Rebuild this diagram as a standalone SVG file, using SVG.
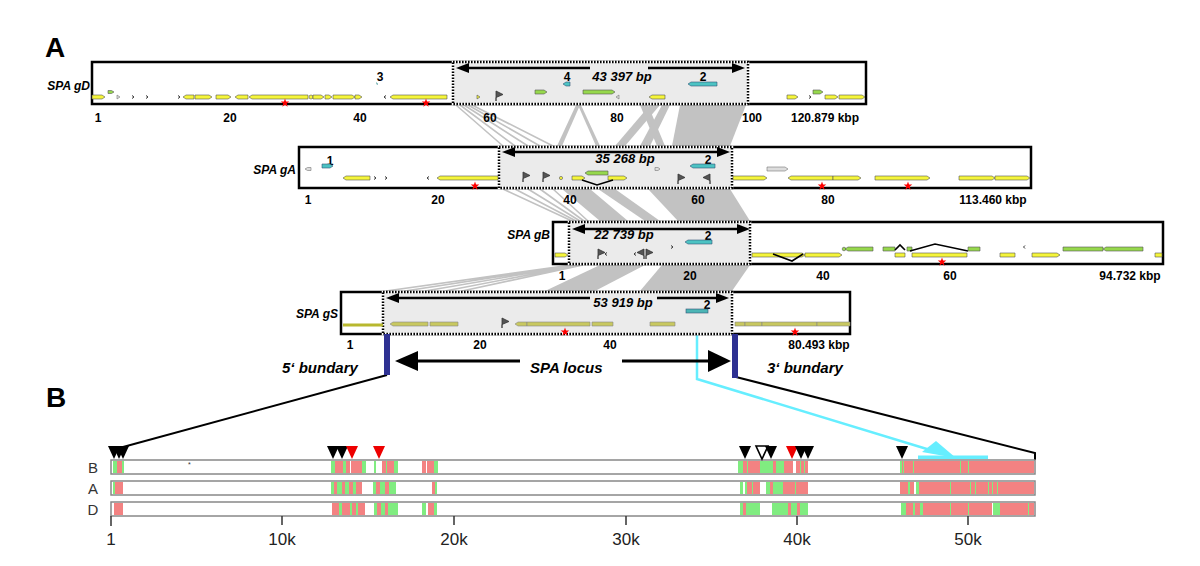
<svg xmlns="http://www.w3.org/2000/svg" width="1200" height="566" viewBox="0 0 1200 566">
<style>
.box{fill:#fff;stroke:#000;stroke-width:2.5}
.coreW{fill:#ebebeb;stroke:#fff;stroke-width:2.5}
.core{fill:none;stroke:#000;stroke-width:2.5;stroke-dasharray:1.6 1.4}
.lbl{font-family:"Liberation Sans",Arial,sans-serif;font-weight:bold;font-style:italic;font-size:12px;fill:#000}
.bp{font-family:"Liberation Sans",Arial,sans-serif;font-weight:bold;font-style:italic;font-size:13px;fill:#000;text-anchor:middle}
.num{font-family:"Liberation Sans",Arial,sans-serif;font-weight:bold;font-size:12px;fill:#000;text-anchor:middle}
.big{font-family:"Liberation Sans",Arial,sans-serif;font-weight:bold;font-size:28px;fill:#000}
.bnd{font-family:"Liberation Sans",Arial,sans-serif;font-weight:bold;font-style:italic;font-size:15px;fill:#000}
.trk{font-family:"Liberation Sans",Arial,sans-serif;font-size:15px;fill:#333;text-anchor:middle}
.ax{font-family:"Liberation Sans",Arial,sans-serif;font-size:17px;fill:#222;text-anchor:middle}
.y{fill:#f5f53a;stroke:#555;stroke-width:0.6}
.o{fill:#c8c860;stroke:#888;stroke-width:0.6}
.g{fill:#96d84c;stroke:#555;stroke-width:0.6}
.t{fill:#4cc3c3;stroke:#357;stroke-width:0.6}
.gr{fill:#ddd;stroke:#777;stroke-width:0.6}
.ch{fill:none;stroke:#333;stroke-width:1}
.vl{fill:none;stroke:#000;stroke-width:1.6}
.dbl{stroke:#000;stroke-width:2.5;fill:none}
.rib{fill:#c2c2c2}
.ribl{stroke:#c2c2c2;stroke-width:1.6;fill:none}
.G{fill:#80ec80}
.R{fill:#f38282}
.tb{fill:#fff;stroke:#888;stroke-width:1.5}
</style>
<defs>
<path id="star" d="M0,-4.5 L1.06,-1.46 L4.28,-1.39 L1.71,0.56 L2.65,3.64 L0,1.8 L-2.65,3.64 L-1.71,0.56 L-4.28,-1.39 L-1.06,-1.46 Z" fill="#f00"/>
<path id="flag" d="M0,5 L0,-5 L7,-1.5 L0,1.5 Z" fill="#555" stroke="#333" stroke-width="0.8"/>
<path id="tri" d="M-6,-13 L6,-13 L0,0 Z"/>
<path id="ahL" d="M0,0 L13,-5 L13,5 Z" fill="#000"/>
<path id="ahR" d="M0,0 L-13,-5 L-13,5 Z" fill="#000"/>
</defs>

<text class="big" x="45" y="57">A</text>
<text class="big" x="46" y="407">B</text>

<g id="ribbons">
<!-- gD to gA -->
<path class="ribl" d="M456,105 L503,146 M460,105 L515,146 M464,105 L528,146 M468,105 L540,146 M472,105 L553,146"/>
<polygon class="rib" points="576,105 580,105 562,146 557,146"/>
<polygon class="rib" points="578,105 581,105 600,146 596,146"/>
<polygon class="rib" points="640,105 648,105 665,146 657,146"/>
<polygon class="rib" points="650,105 660,105 625,146 615,146"/>
<polygon class="rib" points="662,105 670,105 650,146 640,146"/>
<polygon class="rib" points="680,105 746,105 730,146 672,146"/>
<!-- gA to gB -->
<path class="ribl" d="M503,189 L572,221 M515,189 L576,221 M528,189 L580,221 M540,189 L584,221 M553,189 L588,221"/>
<polygon class="rib" points="562,189 590,189 628,221 600,221"/>
<polygon class="rib" points="598,189 615,189 660,221 645,221"/>
<polygon class="rib" points="648,189 730,189 750,221 678,221"/>
<!-- gB to gS -->
<path class="ribl" d="M571,265 L386,291 M574,265 L405,291 M577,265 L425,291 M580,265 L445,291 M583,265 L462,291"/>
<polygon class="rib" points="600,265 645,265 595,291 545,291"/>
<polygon class="rib" points="662,265 750,265 732,291 640,291"/>
</g>

<g id="connectors">
<line x1="387" y1="375" x2="112" y2="450" stroke="#000" stroke-width="2"/>
<polyline points="736,377 1035,453 1035,460" fill="none" stroke="#000" stroke-width="2"/>
<polyline points="697,313 697,379 940,453" fill="none" stroke="#66eeff" stroke-width="2.5"/>
<polygon points="956,458 922,452 936,441" fill="#66eeff"/>
<rect x="918" y="455.5" width="70" height="3.5" fill="#66eeff"/>
<!-- SPA locus arrows -->
<line x1="417" y1="361" x2="520" y2="361" stroke="#000" stroke-width="3"/>
<polygon points="395,361 418,351 418,371" fill="#000"/>
<line x1="622" y1="361" x2="709" y2="361" stroke="#000" stroke-width="3"/>
<polygon points="731,361 708,350 708,372" fill="#000"/>
</g>

<g id="track-gD">
<rect class="box" x="92" y="62" width="774" height="42"/>
<rect class="coreW" x="453" y="62" width="295" height="42"/>
<rect class="core" x="453" y="62" width="295" height="42"/>
<text class="lbl" x="90" y="90" text-anchor="end">SPA gD</text>
<line class="dbl" x1="468" y1="68" x2="590" y2="68"/>
<line class="dbl" x1="648" y1="68" x2="733" y2="68"/>
<use href="#ahL" x="456" y="68"/>
<use href="#ahR" x="745" y="68"/>
<text class="bp" x="622" y="81">43 397 bp</text>
<text class="num" x="380" y="81" font-size="11">3</text>
<text class="num" x="567" y="81">4</text>
<text class="num" x="703" y="81">2</text>
<polygon class="y" points="92,95 102,95 105,97 102,99 92,99"/>
<polygon class="g" points="108,90.5 111.5,90.5 114,92 111.5,93.5 108,93.5"/>
<polygon class="gr" points="117,95 120,97 117,99"/>
<polyline class="ch" points="132,95.5 134,97 132,98.5"/>
<polyline class="ch" points="146,95.5 148,97 146,98.5"/>
<polyline class="ch" points="178,95.5 180,97 178,98.5"/>
<polygon class="y" points="183,97 186,95 194,95 194,99 186,99"/>
<polygon class="y" points="195,95 209,95 212,97 209,99 195,99"/>
<polygon class="y" points="216,95 228,95 231,97 228,99 216,99"/>
<polygon class="y" points="235,97 238,95 248,95 248,99 238,99"/>
<polygon class="y" points="249,97 252,95 308,95 308,99 252,99"/>
<circle class="y" cx="311" cy="97" r="2"/>
<polygon class="y" points="313,95 321,95 324,97 321,99 313,99"/>
<polygon class="y" points="325,95 329,95 332,97 329,99 325,99"/>
<polygon class="y" points="333,95 352,95 355,97 352,99 333,99"/>
<polygon class="y" points="355,95 359,95 362,97 359,99 355,99"/>
<path d="M376,82 l2,2 l-1,1 z" fill="#2a8a8a"/>
<polyline class="ch" points="386,95.5 384,97 386,98.5"/>
<polygon class="y" points="390,97 393,95 447,95 447,99 393,99"/>
<use href="#star" x="285" y="103"/>
<use href="#star" x="426" y="103"/>
<polygon class="y" points="477,95 480,97 477,99"/>
<use href="#flag" x="496" y="96"/>
<polygon class="g" points="535,90 544,90 547,92 544,94 535,94"/>
<polygon class="t" points="563,84 566,82 570,82 570,86 566,86"/>
<polygon class="g" points="583,90 612,90 615,92 612,94 583,94"/>
<polygon class="gr" points="616,97 619,95 619,99"/>
<polygon class="y" points="649,97 652,95 665,95 665,99 652,99"/>
<polygon class="t" points="688,84 691,82 717,82 717,86 691,86"/>
<polygon class="y" points="787,95 795,95 798,97 795,99 787,99"/>
<polyline class="ch" points="809,95.5 811,97 809,98.5"/>
<polygon class="g" points="813,90 820,90 823,92 820,94 813,94"/>
<polygon class="y" points="825,95 835,95 838,97 835,99 825,99"/>
<polygon class="y" points="839,95 862,95 865,97 862,99 839,99"/>
<text class="num" x="98" y="122">1</text>
<text class="num" x="230" y="122">20</text>
<text class="num" x="360" y="122">40</text>
<text class="num" x="490" y="122">60</text>
<text class="num" x="617" y="122">80</text>
<text class="num" x="752" y="122">100</text>
<text class="num" x="825" y="122">120.879 kbp</text>
</g>

<g id="track-gA">
<rect class="box" x="299" y="147" width="732" height="41"/>
<rect class="coreW" x="499" y="147" width="233" height="41"/>
<rect class="core" x="499" y="147" width="233" height="41"/>
<text class="lbl" x="296" y="174" text-anchor="end">SPA gA</text>
<line class="dbl" x1="515" y1="152" x2="717" y2="152"/>
<use href="#ahL" x="502" y="152"/>
<use href="#ahR" x="730" y="152"/>
<text class="bp" x="625" y="163">35 268 bp</text>
<text class="num" x="330" y="165">1</text>
<text class="num" x="708" y="164">2</text>
<polygon class="gr" points="305,169 307.5,167.5 311,167.5 311,170.5 307.5,170.5"/>
<polygon class="t" points="322,164 330,164 333,166 330,168 322,168"/>
<polygon class="y" points="343,178 346,176 370,176 370,180 346,180"/>
<polyline class="ch" points="374,176.5 376,178 374,179.5"/>
<polyline class="ch" points="385,176.5 387,178 385,179.5"/>
<polyline class="ch" points="429,176.5 427,178 429,179.5"/>
<polygon class="y" points="437,178 440,176 498,176 498,180 440,180"/>
<use href="#star" x="475" y="186"/>
<use href="#flag" x="523" y="177"/>
<use href="#flag" x="543" y="177"/>
<circle class="y" cx="561" cy="178" r="1.6"/>
<polygon class="y" points="572,176 582,176 585,178 582,180 572,180"/>
<polygon class="g" points="585,173 588,171 608,171 608,175 588,175"/>
<polygon class="y" points="608,176 624,176 627,178 624,180 608,180"/>
<polyline class="vl" points="582,180 597,185 613,180"/>
<polygon class="gr" points="655,167.5 658,167.5 660,169 658,170.5 655,170.5"/>
<polygon class="t" points="690,166 693,164 715,164 715,168 693,168"/>
<use href="#flag" x="678" y="179"/>
<use href="#flag" transform="translate(710,179) scale(-1,1)"/>
<polygon class="y" points="733,176 764,176 767,178 764,180 733,180"/>
<polygon class="gr" points="767,167 785,167 788,169 785,171 767,171"/>
<polygon class="y" points="788,178 791,176 833,176 833,180 791,180"/>
<polygon class="y" points="833,176 858,176 861,178 858,180 833,180"/>
<use href="#star" x="822" y="186"/>
<polygon class="y" points="875,176 927,176 930,178 927,180 875,180"/>
<use href="#star" x="908" y="186"/>
<polygon class="y" points="959,176 992,176 995,178 992,180 959,180"/>
<polygon class="y" points="995,176 1027,176 1030,178 1027,180 995,180"/>
<text class="num" x="308" y="204">1</text>
<text class="num" x="438" y="204">20</text>
<text class="num" x="570" y="204">40</text>
<text class="num" x="698" y="204">60</text>
<text class="num" x="828" y="204">80</text>
<text class="num" x="993" y="204">113.460 kbp</text>
</g>

<g id="track-gB">
<rect class="box" x="553" y="222" width="610" height="42"/>
<rect class="coreW" x="569" y="222" width="181" height="42"/>
<rect class="core" x="569" y="222" width="181" height="42"/>
<text class="lbl" x="550" y="239" text-anchor="end">SPA gB</text>
<line class="dbl" x1="585" y1="229" x2="737" y2="229"/>
<use href="#ahL" x="572" y="229"/>
<use href="#ahR" x="750" y="229"/>
<text class="bp" x="624" y="239">22 739 bp</text>
<text class="num" x="708" y="240">2</text>
<polygon class="y" points="555,253 565,253 568,255 565,257 555,257"/>
<use href="#flag" x="598" y="254"/>
<polyline class="ch" points="607,252.5 605,254 607,255.5"/>
<polyline class="ch" points="636,252.5 634,254 636,255.5"/>
<use href="#flag" transform="translate(644,254) scale(-1,1)"/>
<use href="#flag" x="646" y="254"/>
<polyline class="ch" points="671,245.5 673,247 671,248.5"/>
<polygon class="t" points="685,242 688,240 712,240 712,244 688,244"/>
<polygon class="y" points="752,253 802,253 805,255 802,257 752,257"/>
<polyline class="vl" points="773,254 792,261 803,254"/>
<polygon class="y" points="805,253 839,253 842,255 839,257 805,257"/>
<circle class="g" cx="844" cy="249" r="1.8"/>
<polygon class="g" points="845,249 848,247 873,247 873,251 848,251"/>
<polygon class="g" points="883,247 895,247 895,251 883,251"/>
<polygon class="y" points="895,253 905,253 905,257 895,257"/>
<polyline class="vl" points="895,250 900,245 905,250"/>
<polygon class="g" points="907,247 912,247 912,251 907,251"/>
<polygon class="y" points="912,253 967,253 967,257 912,257"/>
<polyline class="vl" points="910,251 935,244 968,251"/>
<polygon class="g" points="968,247 980,247 980,251 968,251"/>
<use href="#star" x="942" y="262"/>
<polygon class="y" points="1000,253 1015,253 1015,257 1000,257"/>
<polyline class="ch" points="1025,245.5 1023.5,247 1025,248.5"/>
<polygon class="y" points="1032,253 1057,253 1060,255 1057,257 1032,257"/>
<polygon class="g" points="1063,247 1103,247 1103,251 1063,251"/>
<polygon class="g" points="1103,249 1106,247 1143,247 1143,251 1106,251"/>
<polygon class="y" points="1155,253 1162,253 1162,257 1155,257"/>
<text class="num" x="562" y="280">1</text>
<text class="num" x="690" y="280">20</text>
<text class="num" x="823" y="280">40</text>
<text class="num" x="950" y="280">60</text>
<text class="num" x="1130" y="280">94.732 kbp</text>
</g>

<g id="track-gS">
<rect class="box" x="341" y="292" width="509" height="42"/>
<rect class="coreW" x="383" y="292" width="349" height="42"/>
<rect class="core" x="383" y="292" width="349" height="42"/>
<text class="lbl" x="338" y="318" text-anchor="end">SPA gS</text>
<line class="dbl" x1="399" y1="298" x2="590" y2="298"/>
<line class="dbl" x1="657" y1="298" x2="716" y2="298"/>
<use href="#ahL" x="386" y="298"/>
<use href="#ahR" x="729" y="298"/>
<text class="bp" x="623" y="307">53 919 bp</text>
<text class="num" x="707" y="309">2</text>
<rect x="343" y="323.5" width="40" height="3" fill="#b8b82e"/>
<polygon class="o" points="390,324 393,322 428,322 428,326 393,326"/>
<polygon class="o" points="430,322 458,322 458,326 430,326"/>
<use href="#flag" x="502" y="323"/>
<polygon class="o" points="515,324 518,322 527,322 527,326 518,326"/>
<polygon class="o" points="527,322 590,322 590,326 527,326"/>
<polygon class="o" points="592,322 613,322 613,326 592,326"/>
<polygon class="o" points="650,322 675,322 675,326 650,326"/>
<use href="#star" x="565" y="332"/>
<rect x="686" y="309" width="22" height="4" fill="#4cb5b5" stroke="#357" stroke-width="0.6"/>
<polygon class="o" points="735,322 745,322 745,326 735,326"/>
<polygon class="o" points="745,322 762,322 762,326 745,326"/>
<polygon class="o" points="762,322 817,322 817,326 762,326"/>
<polygon class="o" points="817,322 850,322 850,326 817,326"/>
<use href="#star" x="795" y="332"/>
<rect x="384" y="334" width="6" height="41" fill="#2e3192"/>
<rect x="732" y="334" width="6" height="44" fill="#2e3192"/>
<text class="num" x="350" y="349">1</text>
<text class="num" x="480" y="349">20</text>
<text class="num" x="610" y="349">40</text>
<text class="num" x="819" y="349">80.493 kbp</text>
<text class="bnd" x="282" y="373">5‘ bundary</text>
<text class="bnd" x="530" y="373">SPA locus</text>
<text class="bnd" x="767" y="373">3‘ bundary</text>
</g>

<g id="panelB-tracks">
<rect class="tb" x="111" y="460" width="924" height="14"/>
<rect class="tb" x="111" y="481" width="924" height="14"/>
<rect class="tb" x="111" y="502" width="924" height="14"/>
<text class="trk" x="93" y="473">B</text>
<text class="trk" x="93" y="494">A</text>
<text class="trk" x="93" y="515">D</text>
<text x="188" y="467" font-family="Liberation Sans" font-size="7" fill="#333">*</text>
<!-- B -->
<g transform="translate(0,461)">
<rect class="G" x="113" width="4" height="12"/><rect class="R" x="117" width="5" height="12"/><rect class="G" x="122" width="2" height="12"/>
<rect class="G" x="331" width="4" height="12"/><rect class="R" x="335" width="8" height="12"/><rect class="G" x="343" width="3" height="12"/><rect class="R" x="346" width="4" height="12"/><rect class="R" x="351" width="11" height="12"/><rect class="G" x="362" width="4" height="12"/>
<rect class="G" x="374" width="2" height="12"/>
<rect class="R" x="382" width="4" height="12"/><rect class="G" x="386" width="1" height="12"/><rect class="R" x="387" width="7" height="12"/><rect class="G" x="394" width="4" height="12"/>
<rect class="R" x="422" width="4" height="12"/><rect class="R" x="427" width="7" height="12"/><rect class="G" x="434" width="4" height="12"/>
<rect class="G" x="738" width="5" height="12"/><rect class="R" x="743" width="4" height="12"/><rect class="G" x="747" width="1" height="12"/><rect class="R" x="748" width="12" height="12"/><rect class="G" x="760" width="13" height="12"/><rect class="R" x="773" width="3" height="12"/><rect class="G" x="776" width="8" height="12"/><rect class="R" x="784" width="9" height="12"/><rect class="R" x="796" width="12" height="12"/><rect class="G" x="800" width="1" height="12"/><rect class="G" x="804" width="1" height="12"/>
<rect class="G" x="900" width="2" height="12"/><rect class="R" x="902" width="132" height="12"/><rect class="G" x="903" width="1" height="12"/><rect class="G" x="913" width="1" height="12"/><rect class="G" x="960" width="1" height="12"/><rect class="G" x="968" width="1" height="12"/>
</g>
<!-- A -->
<g transform="translate(0,482)">
<rect class="G" x="113" width="2" height="12"/><rect class="R" x="115" width="8" height="12"/>
<rect class="G" x="331" width="3" height="12"/><rect class="R" x="334" width="3" height="12"/><rect class="G" x="337" width="5" height="12"/><rect class="R" x="342" width="3" height="12"/><rect class="G" x="345" width="4" height="12"/><rect class="R" x="349" width="4" height="12"/><rect class="G" x="353" width="3" height="12"/><rect class="R" x="356" width="6" height="12"/>
<rect class="G" x="373" width="3" height="12"/><rect class="R" x="376" width="4" height="12"/><rect class="G" x="380" width="5" height="12"/><rect class="R" x="385" width="4" height="12"/><rect class="G" x="389" width="7" height="12"/>
<rect class="R" x="432" width="3" height="12"/><rect class="G" x="435" width="2" height="12"/>
<rect class="G" x="740" width="3" height="12"/><rect class="G" x="745" width="2" height="12"/><rect class="R" x="747" width="5" height="12"/><rect class="G" x="752" width="1" height="12"/><rect class="R" x="753" width="7" height="12"/><rect class="G" x="766" width="4" height="12"/><rect class="R" x="770" width="3" height="12"/><rect class="G" x="773" width="10" height="12"/><rect class="R" x="783" width="25" height="12"/><rect class="G" x="795" width="1" height="12"/>
<rect class="R" x="900" width="8" height="12"/><rect class="G" x="908" width="2" height="12"/><rect class="R" x="910" width="4" height="12"/><rect class="G" x="916" width="3" height="12"/><rect class="R" x="919" width="115" height="12"/><rect class="G" x="950" width="1" height="12"/><rect class="G" x="970" width="1" height="12"/><rect class="G" x="975" width="1" height="12"/><rect class="G" x="988" width="1" height="12"/><rect class="G" x="992" width="1" height="12"/><rect class="G" x="997" width="1" height="12"/>
</g>
<!-- D -->
<g transform="translate(0,503)">
<rect class="R" x="114" width="9" height="12"/>
<rect class="R" x="332" width="7" height="12"/><rect class="G" x="339" width="3" height="12"/><rect class="R" x="342" width="8" height="12"/><rect class="G" x="350" width="2" height="12"/><rect class="R" x="352" width="4" height="12"/><rect class="G" x="356" width="2" height="12"/><rect class="R" x="358" width="7" height="12"/>
<rect class="G" x="374" width="3" height="12"/><rect class="R" x="377" width="4" height="12"/><rect class="G" x="381" width="4" height="12"/><rect class="R" x="385" width="3" height="12"/><rect class="G" x="388" width="10" height="12"/>
<rect class="G" x="422" width="4" height="12"/><rect class="R" x="428" width="6" height="12"/><rect class="G" x="434" width="3" height="12"/>
<rect class="G" x="740" width="3" height="12"/><rect class="R" x="743" width="3" height="12"/><rect class="G" x="746" width="14" height="12"/><rect class="G" x="772" width="16" height="12"/><rect class="R" x="788" width="3" height="12"/><rect class="G" x="791" width="6" height="12"/><rect class="R" x="797" width="3" height="12"/><rect class="G" x="800" width="8" height="12"/>
<rect class="G" x="901" width="5" height="12"/><rect class="R" x="906" width="7" height="12"/><rect class="G" x="913" width="2" height="12"/><rect class="R" x="915" width="5" height="12"/><rect class="G" x="920" width="3" height="12"/><rect class="R" x="923" width="69" height="12"/><rect class="G" x="993" width="7" height="12"/><rect class="R" x="1000" width="34" height="12"/><rect class="G" x="950" width="1" height="12"/><rect class="G" x="968" width="1" height="12"/><rect class="G" x="1028" width="1" height="12"/>
</g>
</g>

<g id="panelB-markers">
<use href="#tri" x="114" y="459" fill="#000"/>
<use href="#tri" x="119" y="459" fill="#000"/>
<use href="#tri" x="123" y="459" fill="#000"/>
<use href="#tri" x="333" y="459" fill="#000"/>
<use href="#tri" x="342" y="459" fill="#000"/>
<use href="#tri" x="352" y="459" fill="#e00"/>
<use href="#tri" x="379" y="459" fill="#e00"/>
<use href="#tri" x="745" y="459" fill="#000"/>
<use href="#tri" x="762" y="459" fill="#fff" stroke="#000" stroke-width="1.6"/>
<use href="#tri" x="771" y="459" fill="#000"/>
<use href="#tri" x="792" y="459" fill="#e00"/>
<use href="#tri" x="801" y="459" fill="#000"/>
<use href="#tri" x="808" y="459" fill="#000"/>
<use href="#tri" x="902" y="459" fill="#000"/>
</g>

<g id="panelB-axis">
<path d="M111,516 V526 M282,516 V525 M454,516 V525 M626,516 V525 M797,516 V525 M968,516 V525" stroke="#333" stroke-width="1.5"/>
<text class="ax" x="111" y="545">1</text>
<text class="ax" x="282" y="545">10k</text>
<text class="ax" x="454" y="545">20k</text>
<text class="ax" x="626" y="545">30k</text>
<text class="ax" x="797" y="545">40k</text>
<text class="ax" x="968" y="545">50k</text>
</g>
</svg>
